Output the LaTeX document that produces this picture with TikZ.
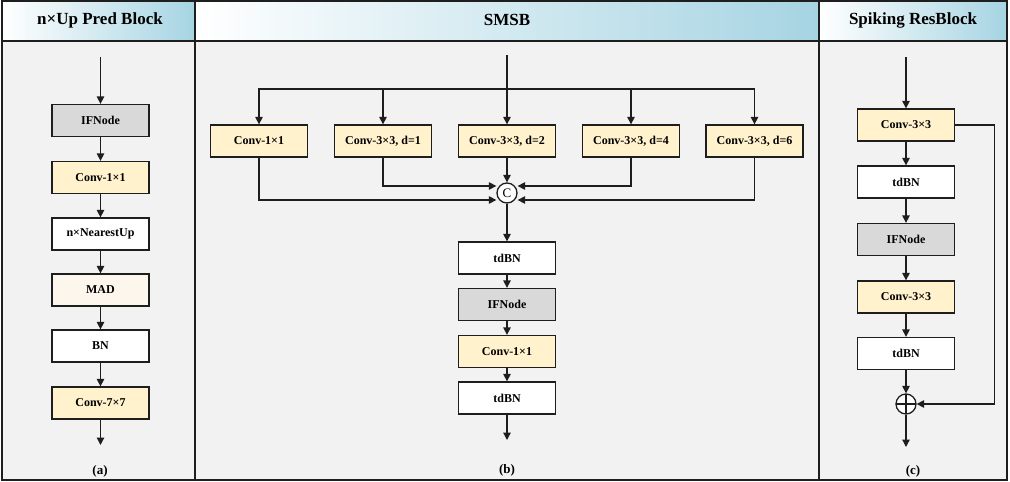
\documentclass[tikz,border=0pt]{standalone}
\usepackage{fontspec}
\setmainfont{Liberation Serif}
\usetikzlibrary{arrows.meta,calc}
\definecolor{convy}{RGB}{255,242,204}
\definecolor{madc}{RGB}{253,246,236}
\definecolor{ifg}{RGB}{217,217,217}
\definecolor{bodyg}{RGB}{242,242,242}
\definecolor{hblue}{RGB}{166,212,226}
\definecolor{linec}{RGB}{30,30,30}
\begin{document}
\begin{tikzpicture}[x=1pt,y=-1pt,
  blk/.style={draw=linec,line width=1.3pt,minimum width=97pt,minimum height=32pt,font=\bfseries\fontsize{12}{14}\selectfont,inner sep=0pt},
  conv/.style={blk,fill=convy},
  ifn/.style={blk,fill=ifg},
  wht/.style={blk,fill=white},
  mad/.style={blk,fill=madc},
  arr/.style={draw=linec,line width=1.3pt,-{Triangle[length=7.5pt,width=7.5pt]}},
  frm/.style={draw=linec,line width=1.6pt},
  hdr/.style={font=\bfseries\fontsize{17}{19}\selectfont},
  lab/.style={font=\bfseries\fontsize{13}{15}\selectfont},
  junc/.style={circle,draw=linec,line width=1.3pt,fill=white,minimum size=20pt,inner sep=0pt}]
\useasboundingbox (0,0) rectangle (1010,482);
% backgrounds
\fill[bodyg] (2,41) rectangle (1007,480);
\shade[left color=white,right color=hblue] (2,1) rectangle (195,41);
\shade[left color=white,right color=hblue] (195,1) rectangle (819,41);
\shade[left color=white,right color=hblue] (819,1) rectangle (1007,41);
\draw[frm] (2,1) rectangle (1007,480);
\draw[frm] (2,41) -- (1007,41);
\draw[frm] (195,1) -- (195,480);
\draw[frm] (819,1) -- (819,480);
% headers
\node[hdr] (ha) at (100,20) {n×Up Pred Block};
\node[hdr] (hb) at (507,20) {SMSB};
\node[hdr] (hc) at (913,20) {Spiking ResBlock};
% column a
\coordinate (ain) at (100.5,57);
\node[ifn]  (a1) at (100.5,120.5) {IFNode};
\node[conv] (a2) at (100.5,177.5) {Conv-1×1};
\node[wht]  (a3) at (100.5,234) {n×NearestUp};
\node[mad]  (a4) at (100.5,290) {MAD};
\node[wht]  (a5) at (100.5,346) {BN};
\node[conv] (a6) at (100.5,403) {Conv-7×7};
\coordinate (aout) at (100.5,445);
\draw[arr] (ain) -- (a1);
\draw[arr] (a1) -- (a2);
\draw[arr] (a2) -- (a3);
\draw[arr] (a3) -- (a4);
\draw[arr] (a4) -- (a5);
\draw[arr] (a5) -- (a6);
\draw[arr] (a6) -- (aout);
\node[lab] (la) at (100,471) {(a)};
% column b
\coordinate (bin) at (507,55);
\coordinate (bus) at (507,89);
\node[conv] (b1) at (259,141) {Conv-1×1};
\node[conv] (b2) at (383,141) {Conv-3×3, d=1};
\node[conv] (b3) at (507,141) {Conv-3×3, d=2};
\node[conv] (b4) at (631,141) {Conv-3×3, d=4};
\node[conv] (b5) at (754.5,141) {Conv-3×3, d=6};
\node[junc,font=\fontsize{13}{13}\selectfont] (C) at (507,193) {C};
\draw[arr] (bin) -- (b3);
\draw[arr] (bus) -| (b1);
\draw[arr] (bus) -| (b2);
\draw[arr] (bus) -| (b4);
\draw[arr] (bus) -| (b5);
\draw[arr] (b3) -- (C);
\draw[arr] (b2.south) |- ([yshift=7pt]C.west);
\draw[arr] (b4.south) |- ([yshift=7pt]C.east);
\draw[arr] (b1.south) |- ([yshift=-7pt]C.west);
\draw[arr] (b5.south) |- ([yshift=-7pt]C.east);
\node[wht]  (b6) at (507,258) {tdBN};
\node[ifn]  (b7) at (507,304.5) {IFNode};
\node[conv] (b8) at (507,351.5) {Conv-1×1};
\node[wht]  (b9) at (507,398) {tdBN};
\coordinate (bout) at (507,440);
\draw[arr] (C) -- (b6);
\draw[arr] (b6) -- (b7);
\draw[arr] (b7) -- (b8);
\draw[arr] (b8) -- (b9);
\draw[arr] (b9) -- (bout);
\node[lab] (lb) at (507,470) {(b)};
% column c
\coordinate (cin) at (906,57);
\node[conv] (c1) at (906,125) {Conv-3×3};
\node[wht]  (c2) at (906,182) {tdBN};
\node[ifn]  (c3) at (906,239.5) {IFNode};
\node[conv] (c4) at (906,297) {Conv-3×3};
\node[wht]  (c5) at (906,353.5) {tdBN};
\node[junc,path picture={\draw[linec,line width=1.3pt] (path picture bounding box.north) -- (path picture bounding box.south) (path picture bounding box.west) -- (path picture bounding box.east);}] (plus) at (906,404) {};
\coordinate (cout) at (906,447);
\draw[arr] (cin) -- (c1);
\draw[arr] (c1) -- (c2);
\draw[arr] (c2) -- (c3);
\draw[arr] (c3) -- (c4);
\draw[arr] (c4) -- (c5);
\draw[arr] (c5) -- (plus);
\draw[arr] (plus) -- (cout);
\draw[arr] (c1.east) -- ++(39,0) |- (plus.east);
\node[lab] (lc) at (913,471) {(c)};
\end{tikzpicture}
\end{document}
